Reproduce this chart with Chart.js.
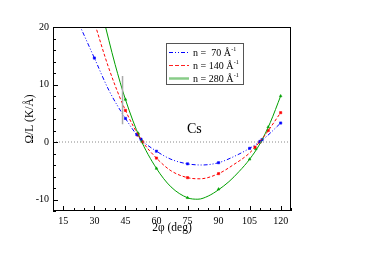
<!DOCTYPE html>
<html><head><meta charset="utf-8">
<script src="https://cdn.jsdelivr.net/npm/chart.js@4"></script>
<style>html,body{margin:0;padding:0;background:#fff}#wrap{width:374px;height:264px}</style>
</head><body><div id="wrap"><canvas id="c" width="374" height="264"></canvas></div>
<script>
// ---- data ----
const xTicks = [15, 30, 45, 60, 75, 90, 105, 120];
const yTicks = [-10, 0, 10, 20];
const seriesLabels = ["n =  70 Å", "n = 140 Å", "n = 280 Å"];

const blueCurveX = [22, 30, 37, 45, 52, 60, 67, 75, 82, 90, 97, 105, 112, 120];
const blueCurveY = [21, 14.6, 9.0, 4.1, 0.6, -1.6, -3.0, -3.8, -4.0, -3.6, -2.6, -1.1, 0.6, 3.3];
const redCurveX = [29, 37, 45, 53, 60, 67, 75, 81, 90, 97, 105, 112, 120];
const redCurveY = [22, 12.8, 5.5, 0.2, -2.8, -5.0, -6.2, -6.4, -5.5, -4.0, -1.9, 1.0, 5.1];
const greenCurveX = [34, 40, 45, 52, 60, 67, 75, 80, 85, 90, 95, 100, 105, 110, 115, 120];
const greenCurveY = [22, 13.5, 7.4, 0.7, -4.6, -7.8, -9.7, -9.95, -9.4, -8.3, -6.9, -5.1, -3.0, -0.3, 3.4, 8.0];

const blueX = [30, 45, 50.5, 52.5, 60, 75, 90, 105, 110, 111, 120];
const blueY = [14.6, 4.1, 1.3, 0.5, -1.6, -3.8, -3.6, -1.1, 0.1, 0.4, 3.3];
const redX = [45, 51, 53.4, 60, 75, 90, 107.6, 110, 114, 120];
const redY = [5.5, 1.2, 0, -2.8, -6.2, -5.5, -0.9, 0, 2, 5.1];
const greenX = [45, 51.2, 53, 60, 75, 90, 105, 108, 110, 114, 120];
const greenY = [7.4, 1.5, 0.2, -4.6, -9.7, -8.2, -3.0, -1.2, 0, 2.6, 8.0];

const barX = [43.6, 43.6];
const barY = [11.5, 3.1];
const zeroX = [10, 125];
const zeroY = [0, 0];

const xRange = [10, 125];
const yRange = [-12, 20];

// ---- helpers ----
const pts = (xs, ys) => xs.map((x, i) => ({x: x, y: ys[i]}));
const BLUE = '#0000ff', RED = '#ff0000', GREEN = '#00a000';
const SERIF = '"Liberation Serif", "DejaVu Serif", serif';

const curve = (xs, ys, color, dash) => ({
  data: pts(xs, ys), borderColor: color, borderWidth: 1, borderDash: dash,
  pointRadius: 0, cubicInterpolationMode: 'monotone', fill: false, showLine: true
});
const marks = (xs, ys, color, style) => ({
  data: pts(xs, ys), borderColor: color, backgroundColor: color, showLine: false,
  pointRadius: 1.6, pointStyle: style, borderWidth: 0.5
});

const decor = {
  id: 'decor',
  afterDraw(chart) {
    const ctx = chart.ctx, a = chart.chartArea;
    const xs = chart.scales.x, ys = chart.scales.y;
    ctx.save();
    ctx.strokeStyle = '#000'; ctx.lineWidth = 1;
    // frame
    ctx.strokeRect(Math.round(a.left) + 0.5, Math.round(a.top) + 0.5,
      Math.round(a.right - a.left) - 1, Math.round(a.bottom - a.top) - 1);
    // ticks inside
    ctx.beginPath();
    for (let v = xRange[0]; v <= xRange[1]; v += 5) {
      const px = Math.round(xs.getPixelForValue(v)) + 0.5;
      const len = xTicks.includes(v) ? 5 : 3;
      ctx.moveTo(px, a.bottom); ctx.lineTo(px, a.bottom - len);
    }
    for (let v = yRange[0]; v <= yRange[1]; v += 2) {
      const py = Math.round(ys.getPixelForValue(v)) + 0.5;
      const len = yTicks.includes(v) ? 5 : 3;
      ctx.moveTo(a.left, py); ctx.lineTo(a.left + len, py);
    }
    ctx.stroke();
    // axis titles
    ctx.fillStyle = '#000';
    ctx.font = '11.5px ' + SERIF;
    ctx.textAlign = 'center'; ctx.textBaseline = 'middle';
    ctx.fillText('2φ (deg)', (a.left + a.right) / 2, 228);
    ctx.save();
    ctx.translate(30, (a.top + a.bottom) / 2);
    ctx.rotate(-Math.PI / 2);
    ctx.fillText('Ω/L (K/Å)', 0, 0);
    ctx.restore();
    // Cs label
    ctx.font = '14px ' + SERIF;
    ctx.textAlign = 'left'; ctx.textBaseline = 'alphabetic';
    ctx.fillText('Cs', 187, 133);
    // legend
    ctx.strokeStyle = '#555'; ctx.lineWidth = 1;
    ctx.strokeRect(166.5, 43.5, 77, 41);
    const rows = [['#0000ff', [4, 2, 1, 2, 1, 2], 1], ['#ff2020', [4, 2], 1.2], ['#88cc88', [], 2.5]];
    rows.forEach((r, i) => {
      const y = 52 + i * 13;
      ctx.strokeStyle = r[0]; ctx.lineWidth = r[2]; ctx.setLineDash(r[1]);
      ctx.beginPath(); ctx.moveTo(169, y + 0.5); ctx.lineTo(189, y + 0.5); ctx.stroke();
      ctx.setLineDash([]);
      ctx.fillStyle = '#000';
      ctx.font = '10px ' + SERIF;
      ctx.textBaseline = 'middle';
      ctx.fillText(seriesLabels[i], 193, y + 1);
      const w = ctx.measureText(seriesLabels[i]).width;
      ctx.font = '6px ' + SERIF;
      ctx.fillText('-1', 193 + w + 0.5, y - 3);
    });
    ctx.restore();
  }
};

new Chart(document.getElementById('c'), {
  type: 'scatter',
  data: {
    datasets: [
      {data: pts(zeroX, zeroY), borderColor: '#888', borderWidth: 1, borderDash: [1, 2], pointRadius: 0, showLine: true},
      {data: pts(barX, barY), borderColor: '#aaaaaa', borderWidth: 1.5, pointRadius: 0, showLine: true},
      curve(blueCurveX, blueCurveY, BLUE, [4, 2, 1, 2, 1, 2]),
      curve(redCurveX, redCurveY, RED, [3, 2]),
      curve(greenCurveX, greenCurveY, GREEN, []),
      marks(blueX, blueY, BLUE, 'rect'),
      marks(redX, redY, RED, 'rect'),
      marks(greenX, greenY, GREEN, 'triangle')
    ]
  },
  options: {
    responsive: false, animation: false, devicePixelRatio: 1,
    layout: {padding: {left: 0, top: 27, right: 83, bottom: 0}},
    plugins: {legend: {display: false}, tooltip: {enabled: false}},
    scales: {
      x: {
        type: 'linear', min: xRange[0], max: xRange[1],
        afterBuildTicks: s => { s.ticks = xTicks.map(v => ({value: v})); },
        afterFit: s => { s.height = 53; },
        grid: {display: false, drawTicks: false},
        border: {display: false},
        ticks: {padding: 4, color: '#000', font: {family: SERIF, size: 10}, maxRotation: 0}
      },
      y: {
        type: 'linear', min: yRange[0], max: yRange[1],
        afterBuildTicks: s => { s.ticks = yTicks.map(v => ({value: v})); },
        afterFit: s => { s.width = 53; },
        grid: {display: false, drawTicks: false},
        border: {display: false},
        ticks: {padding: 4, color: '#000', font: {family: SERIF, size: 10}}
      }
    }
  },
  plugins: [decor]
});
</script></body></html>
